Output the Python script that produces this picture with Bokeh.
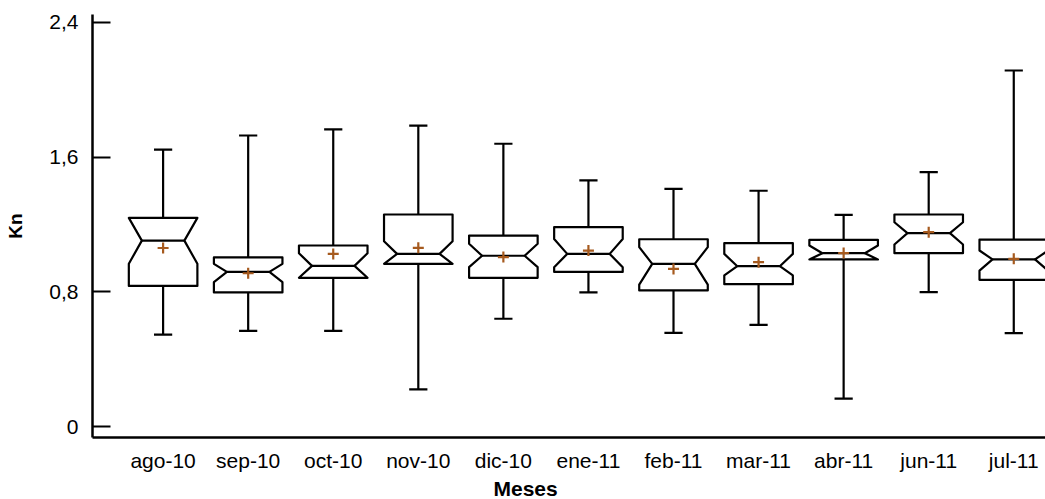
from bokeh.plotting import figure
from bokeh.models import Range1d, FixedTicker, Title
from bokeh.embed import file_html
from bokeh.resources import INLINE

# ---- data ----
months = ["ago-10", "sep-10", "oct-10", "nov-10", "dic-10", "ene-11",
          "feb-11", "mar-11", "abr-11", "jun-11", "jul-11"]
upper_whisker = [1.644, 1.728, 1.764, 1.787, 1.679, 1.461, 1.411, 1.400, 1.257, 1.510, 2.114]
q3 =            [1.239, 1.004, 1.075, 1.259, 1.134, 1.184, 1.112, 1.089, 1.108, 1.259, 1.110]
notch_hi =      [1.239, 0.966, 1.029, 1.100, 1.085, 1.114, 1.065, 1.025, 1.075, 1.213, 1.045]
median =        [1.104, 0.918, 0.954, 1.025, 1.014, 1.025, 0.966, 0.952, 1.029, 1.148, 0.992]
notch_lo =      [0.966, 0.857, 0.883, 0.966, 0.946, 0.946, 0.843, 0.897, 0.992, 1.081, 0.926]
q1 =            [0.835, 0.796, 0.883, 0.966, 0.883, 0.918, 0.808, 0.845, 0.992, 1.029, 0.871]
lower_whisker = [0.546, 0.568, 0.568, 0.220, 0.640, 0.796, 0.556, 0.604, 0.166, 0.798, 0.554]
mean =          [1.060, 0.910, 1.025, 1.061, 1.006, 1.045, 0.936, 0.976, 1.030, 1.154, 0.996]

y_ticks = [0, 0.8, 1.6, 2.4]
y_tick_labels = ["0", "0,8", "1,6", "2,4"]
x_title = "Meses"
y_title = "Kn"

# ---- style ----
HW = 0.403      # box half width (category units)
NW = 0.250      # notch half width at median
CAP = 0.107     # whisker cap half width
MEAN_COLOR = "#A65A1E"
FONT = "Liberation Sans"

x = list(range(len(months)))

p = figure(width=1045, height=499, output_backend="svg", toolbar_location=None,
           x_range=Range1d(-0.830, 10.373), y_range=Range1d(-0.0653, 2.4466),
           min_border_left=92, min_border_right=0, min_border_top=14, min_border_bottom=62)
p.outline_line_color = None
p.grid.visible = False
p.background_fill_color = "white"

# notched boxes
xs, ys = [], []
for i in x:
    lo_n = max(notch_lo[i], q1[i])
    hi_n = min(notch_hi[i], q3[i])
    xs.append([i - HW, i - HW, i - NW, i - HW, i - HW, i + HW, i + HW, i + NW, i + HW, i + HW])
    ys.append([q1[i], lo_n, median[i], hi_n, q3[i], q3[i], hi_n, median[i], lo_n, q1[i]])

# whiskers
p.segment(x0=x, y0=q3, x1=x, y1=upper_whisker, line_color="black", line_width=2.2)
p.segment(x0=x, y0=q1, x1=x, y1=lower_whisker, line_color="black", line_width=2.2)
p.segment(x0=[i - CAP for i in x], y0=upper_whisker, x1=[i + CAP for i in x], y1=upper_whisker,
          line_color="black", line_width=2.2)
p.segment(x0=[i - CAP for i in x], y0=lower_whisker, x1=[i + CAP for i in x], y1=lower_whisker,
          line_color="black", line_width=2.2)

p.patches(xs=xs, ys=ys, fill_color="white", line_color="black", line_width=2.2, line_join="round")
p.segment(x0=[i - NW for i in x], y0=median, x1=[i + NW for i in x], y1=median,
          line_color="black", line_width=2.2)

p.scatter(x=x, y=mean, marker="cross", size=11, line_color=MEAN_COLOR, line_width=2.2)

# axes
xa = p.xaxis[0]
xa.ticker = FixedTicker(ticks=x)
xa.major_label_overrides = {i: m for i, m in enumerate(months)}
xa.major_tick_in = 0
xa.major_tick_out = 0
xa.minor_tick_line_color = None
xa.axis_line_width = 2.5
xa.axis_line_color = "black"
xa.major_label_text_font = FONT
xa.major_label_text_font_size = "21px"
xa.major_label_text_color = "black"
xa.major_label_standoff = 11

# x-axis title (centred under the visible part of the original chart)
p.add_layout(Title(text=x_title, align="left", offset=401, standoff=0,
                   text_font=FONT, text_font_style="bold", text_font_size="21px",
                   text_color="black"), "below")

ya = p.yaxis[0]
ya.ticker = FixedTicker(ticks=y_ticks)
ya.major_label_overrides = {t: l for t, l in zip(y_ticks, y_tick_labels)}
ya.major_tick_in = 18
ya.major_tick_out = 0
ya.major_tick_line_width = 2
ya.major_tick_line_color = "black"
ya.minor_tick_line_color = None
ya.axis_line_width = 2.5
ya.axis_line_color = "black"
ya.major_label_text_font = FONT
ya.major_label_text_font_size = "21px"
ya.major_label_text_color = "black"
ya.major_label_standoff = 14
ya.axis_label = y_title
ya.axis_label_text_font = FONT
ya.axis_label_text_font_style = "bold"
ya.axis_label_text_font_size = "19px"
ya.axis_label_text_color = "black"
ya.axis_label_standoff = 20

open("out.html", "w").write(file_html(p, INLINE))
